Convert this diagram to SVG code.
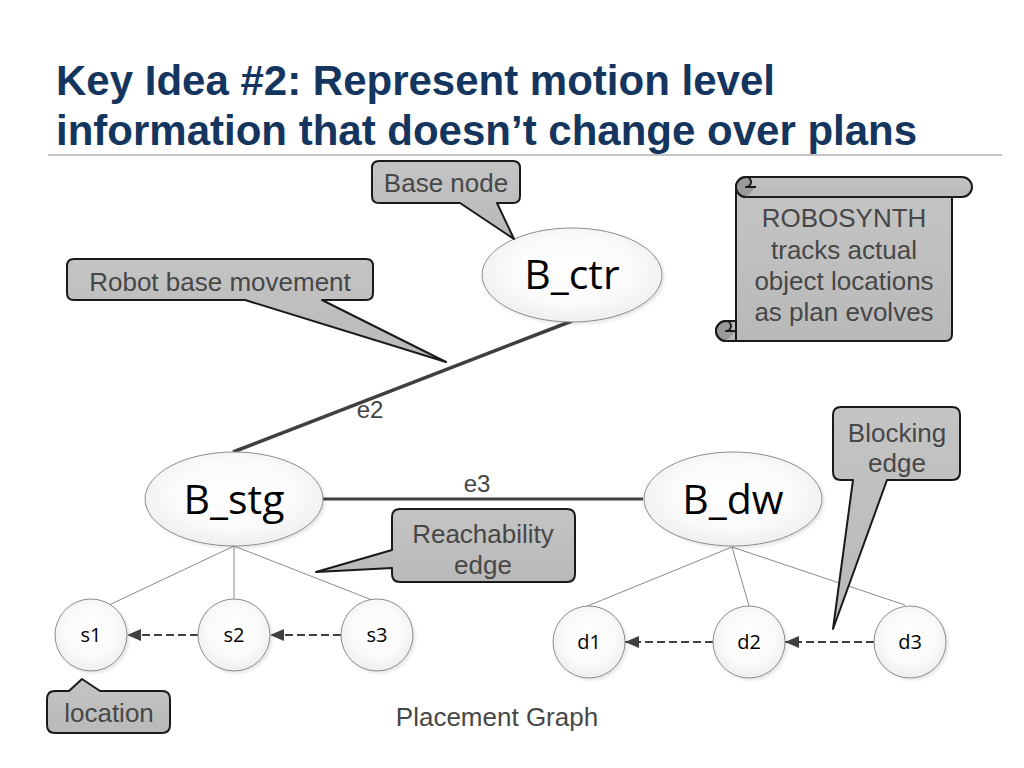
<svg xmlns="http://www.w3.org/2000/svg" width="1024" height="768" viewBox="0 0 1024 768">
<defs>
  <radialGradient id="nodeFill" cx="50%" cy="45%" r="60%">
    <stop offset="0" stop-color="#ffffff"/>
    <stop offset="0.6" stop-color="#fafafa"/>
    <stop offset="1" stop-color="#ececec"/>
  </radialGradient>
  <linearGradient id="calloutFill" x1="0" y1="0" x2="0" y2="1">
    <stop offset="0" stop-color="#c4c4c4"/>
    <stop offset="1" stop-color="#b9b9b9"/>
  </linearGradient>
  <filter id="shadow" x="-20%" y="-20%" width="140%" height="140%">
    <feDropShadow dx="2" dy="2" stdDeviation="1.5" flood-color="#000" flood-opacity="0.1"/>
  </filter>
  <marker id="arrow" markerUnits="userSpaceOnUse" markerWidth="14" markerHeight="12" refX="14" refY="6" orient="auto">
    <path d="M0,0 L14,6 L0,12 Z" fill="#404040"/>
  </marker>
  <style>
    .title { font-family: "Liberation Sans", Arial, sans-serif; font-weight: bold; font-size: 42px; fill: #14365e; }
    .callout { fill: url(#calloutFill); stroke: #1a1a1a; stroke-width: 2; stroke-linejoin: round; }
    .ctext { font-family: "Liberation Sans", Arial, sans-serif; font-size: 26px; fill: #474747; text-anchor: middle; }
    .node { fill: url(#nodeFill); stroke: #8c8c8c; stroke-width: 1; filter: url(#shadow); }
    .big { font-family: "Open Sans", "Noto Sans", sans-serif; font-size: 41px; fill: #000; text-anchor: middle; }
    .small { font-family: "Open Sans", "Noto Sans", sans-serif; font-size: 20px; fill: #000; text-anchor: middle; }
    .tree { stroke: #8a8a8a; stroke-width: 1; fill: none; }
    .edge { stroke: #404040; fill: none; }
    .block { stroke: #404040; stroke-width: 2; stroke-dasharray: 8 4; fill: none; marker-end: url(#arrow); }
    .elabel { font-family: "Liberation Sans", Arial, sans-serif; font-size: 24px; fill: #444; text-anchor: middle; }
  </style>
</defs>
<rect width="1024" height="768" fill="#ffffff"/>

<g id="title">
  <text class="title" x="56" y="95">Key Idea #2: Represent motion level</text>
  <text class="title" x="56" y="145">information that doesn’t change over plans</text>
  <line x1="48" y1="155" x2="1002" y2="155" stroke="#c4c4c4" stroke-width="2"/>
</g>

<g id="connectors">
  <line class="tree" x1="234" y1="546" x2="109" y2="605"/>
  <line class="tree" x1="234" y1="546" x2="234" y2="599"/>
  <line class="tree" x1="234" y1="546" x2="372" y2="600"/>
  <line class="tree" x1="732" y1="547" x2="585" y2="607"/>
  <line class="tree" x1="732" y1="547" x2="749" y2="606"/>
  <line class="tree" x1="732" y1="547" x2="905" y2="605"/>
  <line class="edge" x1="572" y1="321" x2="233" y2="452" stroke-width="3.5"/>
  <line class="edge" x1="323" y1="499" x2="643" y2="499" stroke-width="3"/>
  <line class="block" x1="198" y1="635" x2="127" y2="635"/>
  <line class="block" x1="341" y1="635" x2="270" y2="635"/>
  <line class="block" x1="713" y1="642" x2="625" y2="642"/>
  <line class="block" x1="874" y1="642" x2="785" y2="642"/>
  <text class="elabel" x="370" y="418">e2</text>
  <text class="elabel" x="477" y="492">e3</text>
</g>

<g id="node-B_ctr">
  <ellipse class="node" cx="572" cy="275" rx="90" ry="47"/>
  <text class="big" x="572" y="289">B_ctr</text>
</g>
<g id="node-B_stg">
  <ellipse class="node" cx="234" cy="499" rx="89" ry="47"/>
  <text class="big" x="234" y="514">B_stg</text>
</g>
<g id="node-B_dw">
  <ellipse class="node" cx="733" cy="499" rx="89" ry="47"/>
  <text class="big" x="733" y="514">B_dw</text>
</g>
<g id="node-s1">
  <circle class="node" cx="91" cy="635" r="36"/>
  <text class="small" x="91" y="642">s1</text>
</g>
<g id="node-s2">
  <circle class="node" cx="234" cy="635" r="36"/>
  <text class="small" x="234" y="642">s2</text>
</g>
<g id="node-s3">
  <circle class="node" cx="377" cy="635" r="36"/>
  <text class="small" x="377" y="642">s3</text>
</g>
<g id="node-d1">
  <circle class="node" cx="589" cy="642" r="36"/>
  <text class="small" x="589" y="649">d1</text>
</g>
<g id="node-d2">
  <circle class="node" cx="749" cy="642" r="36"/>
  <text class="small" x="749" y="649">d2</text>
</g>
<g id="node-d3">
  <circle class="node" cx="910" cy="642" r="36"/>
  <text class="small" x="910" y="649">d3</text>
</g>

<g id="callout-base-node">
  <path class="callout" d="M379,161 H513 Q520,161 520,168 V196 Q520,203 513,203 H497 L514,239 L460,203 H379 Q372,203 372,196 V168 Q372,161 379,161 Z"/>
  <text class="ctext" x="446" y="192">Base node</text>
</g>
<g id="callout-robot-base">
  <path class="callout" d="M74,259 H366 Q373,259 373,266 V293 Q373,300 366,300 H322 L446,362 L245,300 H74 Q67,300 67,293 V266 Q67,259 74,259 Z"/>
  <text class="ctext" x="220" y="291">Robot base movement</text>
</g>
<g id="callout-reachability">
  <path class="callout" d="M400,509 H567 Q575,509 575,517 V574 Q575,582 567,582 H400 Q392,582 392,574 V568 L316,572 L392,550 V517 Q392,509 400,509 Z"/>
  <text class="ctext" x="483" y="543">Reachability</text>
  <text class="ctext" x="483" y="574">edge</text>
</g>
<g id="callout-blocking">
  <path class="callout" d="M841,407 H952 Q960,407 960,415 V472 Q960,480 952,480 H887 L833,629 L853,480 H841 Q833,480 833,472 V415 Q833,407 841,407 Z"/>
  <text class="ctext" x="897" y="442">Blocking</text>
  <text class="ctext" x="897" y="472">edge</text>
</g>
<g id="callout-location">
  <path class="callout" d="M55,691 H69 L82,679 L100,691 H162 Q170,691 170,699 V725 Q170,733 162,733 H55 Q47,733 47,725 V699 Q47,691 55,691 Z"/>
  <text class="ctext" x="109" y="722">location</text>
</g>

<g id="scroll-robosynth">
  <path class="callout" d="M736,187 V321 H726 A10,10 0 0 0 726,341 H945 Q952,341 952,334 V197 Z"/>
  <path d="M726,341 A10,10 0 0 1 726,321 A5,5 0 0 1 726,331 H736" fill="#9a9a9a" stroke="#1a1a1a" stroke-width="2" stroke-linejoin="round"/>
  <line x1="736" y1="321" x2="736" y2="341" stroke="#1a1a1a" stroke-width="2"/>
  <path class="callout" d="M746,177 H962 A10,10 0 0 1 962,197 H746 A10,10 0 0 1 746,177 Z"/>
  <path d="M746,197 A10,10 0 0 1 746,177 A5,5 0 0 1 746,187 H756" fill="#9a9a9a" stroke="#1a1a1a" stroke-width="2" stroke-linejoin="round"/>
  <text class="ctext" x="844" y="227">ROBOSYNTH</text>
  <text class="ctext" x="844" y="259">tracks actual</text>
  <text class="ctext" x="844" y="290">object locations</text>
  <text class="ctext" x="844" y="321">as plan evolves</text>
</g>

<g id="caption">
  <text class="ctext" x="497" y="726" fill="#333">Placement Graph</text>
</g>
</svg>
